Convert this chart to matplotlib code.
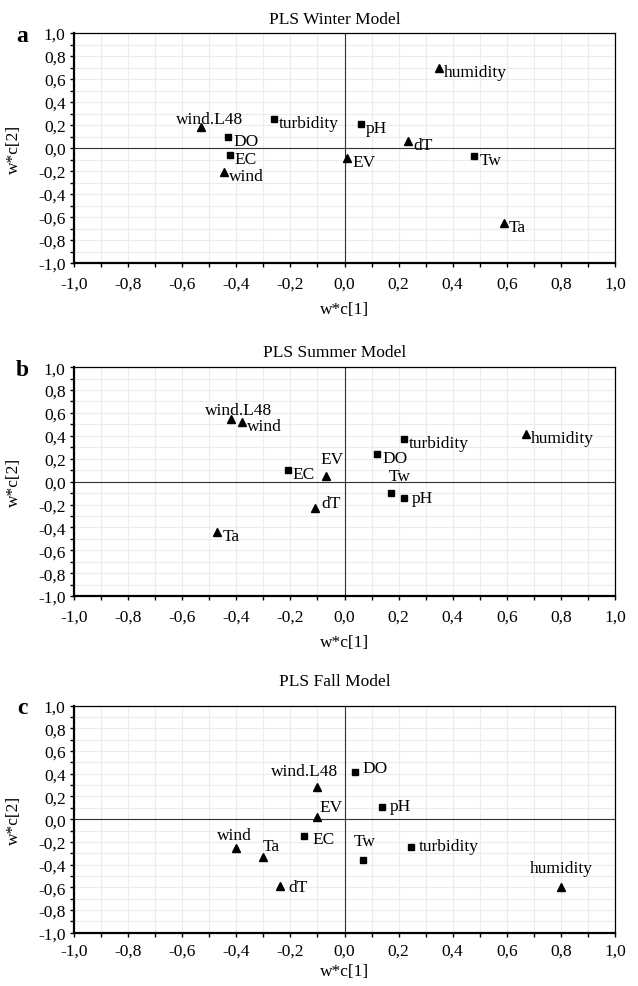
import matplotlib
matplotlib.use("Agg")
import matplotlib.pyplot as plt
from matplotlib.ticker import MultipleLocator, FuncFormatter

plt.rcParams['font.family'] = ['Liberation Serif', 'DejaVu Serif']

# variables: squares = water quality, triangles = meteorological
names = ["humidity", "wind.L48", "turbidity", "pH", "DO", "dT", "EC", "EV", "Tw", "wind", "Ta"]
square = ["turbidity", "pH", "DO", "EC", "Tw"]

winter_x = [0.35, -0.53, -0.26, 0.06, -0.43, 0.235, -0.425, 0.01, 0.48, -0.445, 0.59]
winter_y = [0.70, 0.18, 0.25, 0.21, 0.10, 0.06, -0.06, -0.09, -0.07, -0.21, -0.65]

summer_x = [0.67, -0.42, 0.22, 0.22, 0.12, -0.11, -0.21, -0.07, 0.17, -0.38, -0.47]
summer_y = [0.42, 0.55, 0.37, -0.14, 0.24, -0.23, 0.10, 0.05, -0.10, 0.52, -0.44]

fall_x = [0.80, -0.10, 0.245, 0.14, 0.04, -0.24, -0.15, -0.10, 0.07, -0.40, -0.30]
fall_y = [-0.60, 0.28, -0.245, 0.11, 0.42, -0.59, -0.15, 0.02, -0.36, -0.25, -0.33]

# label placement (offset in pixels, horizontal alignment)
default_off = (5, -4, 'left')
winter_off = {"wind.L48": (8, 8, 'center')}
summer_off = {"wind.L48": (8, 9, 'center'), "EV": (6, 17, 'center'),
              "Tw": (9, 17, 'center'), "pH": (8, 0, 'left'), "dT": (7, 5, 'left')}
fall_off = {"DO": (7, 4, 'left'), "wind.L48": (-13, 16, 'center'), "pH": (7, 1, 'left'),
            "EV": (2, 10, 'left'), "EC": (9, -3, 'left'), "wind": (-2, 13, 'center'),
            "Ta": (-1, 11, 'left'), "Tw": (1, 19, 'center'), "turbidity": (8, 1, 'left'),
            "humidity": (0, 19, 'center'), "dT": (9, -1, 'left')}

panels = [
    ("a", "PLS Winter Model", winter_x, winter_y, winter_off, 0.7325, 0.233, 0.980, 7),
    ("b", "PLS Summer Model", summer_x, summer_y, summer_off, 0.395, 0.232, 0.642, 7),
    ("c", "PLS Fall Model", fall_x, fall_y, fall_off, 0.0540, 0.230, 0.309, 3),
]

fmt = FuncFormatter(lambda v, p: "{:.1f}".format(v).replace(".", ",").replace("-0,0", "0,0"))
fs = 12.5

fig = plt.figure(figsize=(6.38, 9.87), dpi=100)

for letter, title, xs, ys, offs, bottom, height, ty, lpad in panels:
    ax = fig.add_axes([0.116, bottom, 0.848, height])
    ax.set_xlim(-1, 1)
    ax.set_ylim(-1, 1)
    ax.xaxis.set_major_locator(MultipleLocator(0.2))
    ax.yaxis.set_major_locator(MultipleLocator(0.2))
    ax.xaxis.set_minor_locator(MultipleLocator(0.1))
    ax.yaxis.set_minor_locator(MultipleLocator(0.1))
    ax.xaxis.set_major_formatter(fmt)
    ax.yaxis.set_major_formatter(fmt)
    ax.grid(True, which='both', color='#ececec', linewidth=0.8, zorder=0)
    ax.set_axisbelow(True)
    ax.tick_params(which='both', direction='out', labelsize=fs, color='black',
                   length=3, width=1)
    ax.tick_params(axis='x', which='major', pad=6 if lpad > 3 else 4)
    ax.tick_params(axis='y', which='major', pad=3)
    for s in ['left', 'bottom']:
        ax.spines[s].set_linewidth(1.6)
    for s in ['top', 'right']:
        ax.spines[s].set_linewidth(0.9)
    ax.axhline(0, color='#333333', linewidth=0.8, zorder=1)
    ax.axvline(0, color='#333333', linewidth=0.8, zorder=1)

    for n, x, y in zip(names, xs, ys):
        m = 's' if n in square else '^'
        ax.plot(x, y, marker=m, color='black', markersize=5 if m == 's' else 5.5,
                linestyle='none', zorder=3)
        dx, dy, ha = offs.get(n, default_off)
        ax.annotate(n, (x, y), xytext=(dx, dy), textcoords='offset pixels',
                    ha=ha, va='center', fontsize=fs, zorder=4)

    ax.set_xlabel("w*c[1]", fontsize=fs, labelpad=lpad)
    ax.set_ylabel("w*c[2]", fontsize=fs)
    ax.yaxis.set_label_coords(-0.096, 0.5)
    fig.text(0.525, ty, title, ha='center', va='center', fontsize=fs)
    fig.text(0.035, bottom + height - 0.002, letter, ha='center', va='center',
             fontsize=17, fontweight='bold')

fig.savefig("out.png", dpi=100)
